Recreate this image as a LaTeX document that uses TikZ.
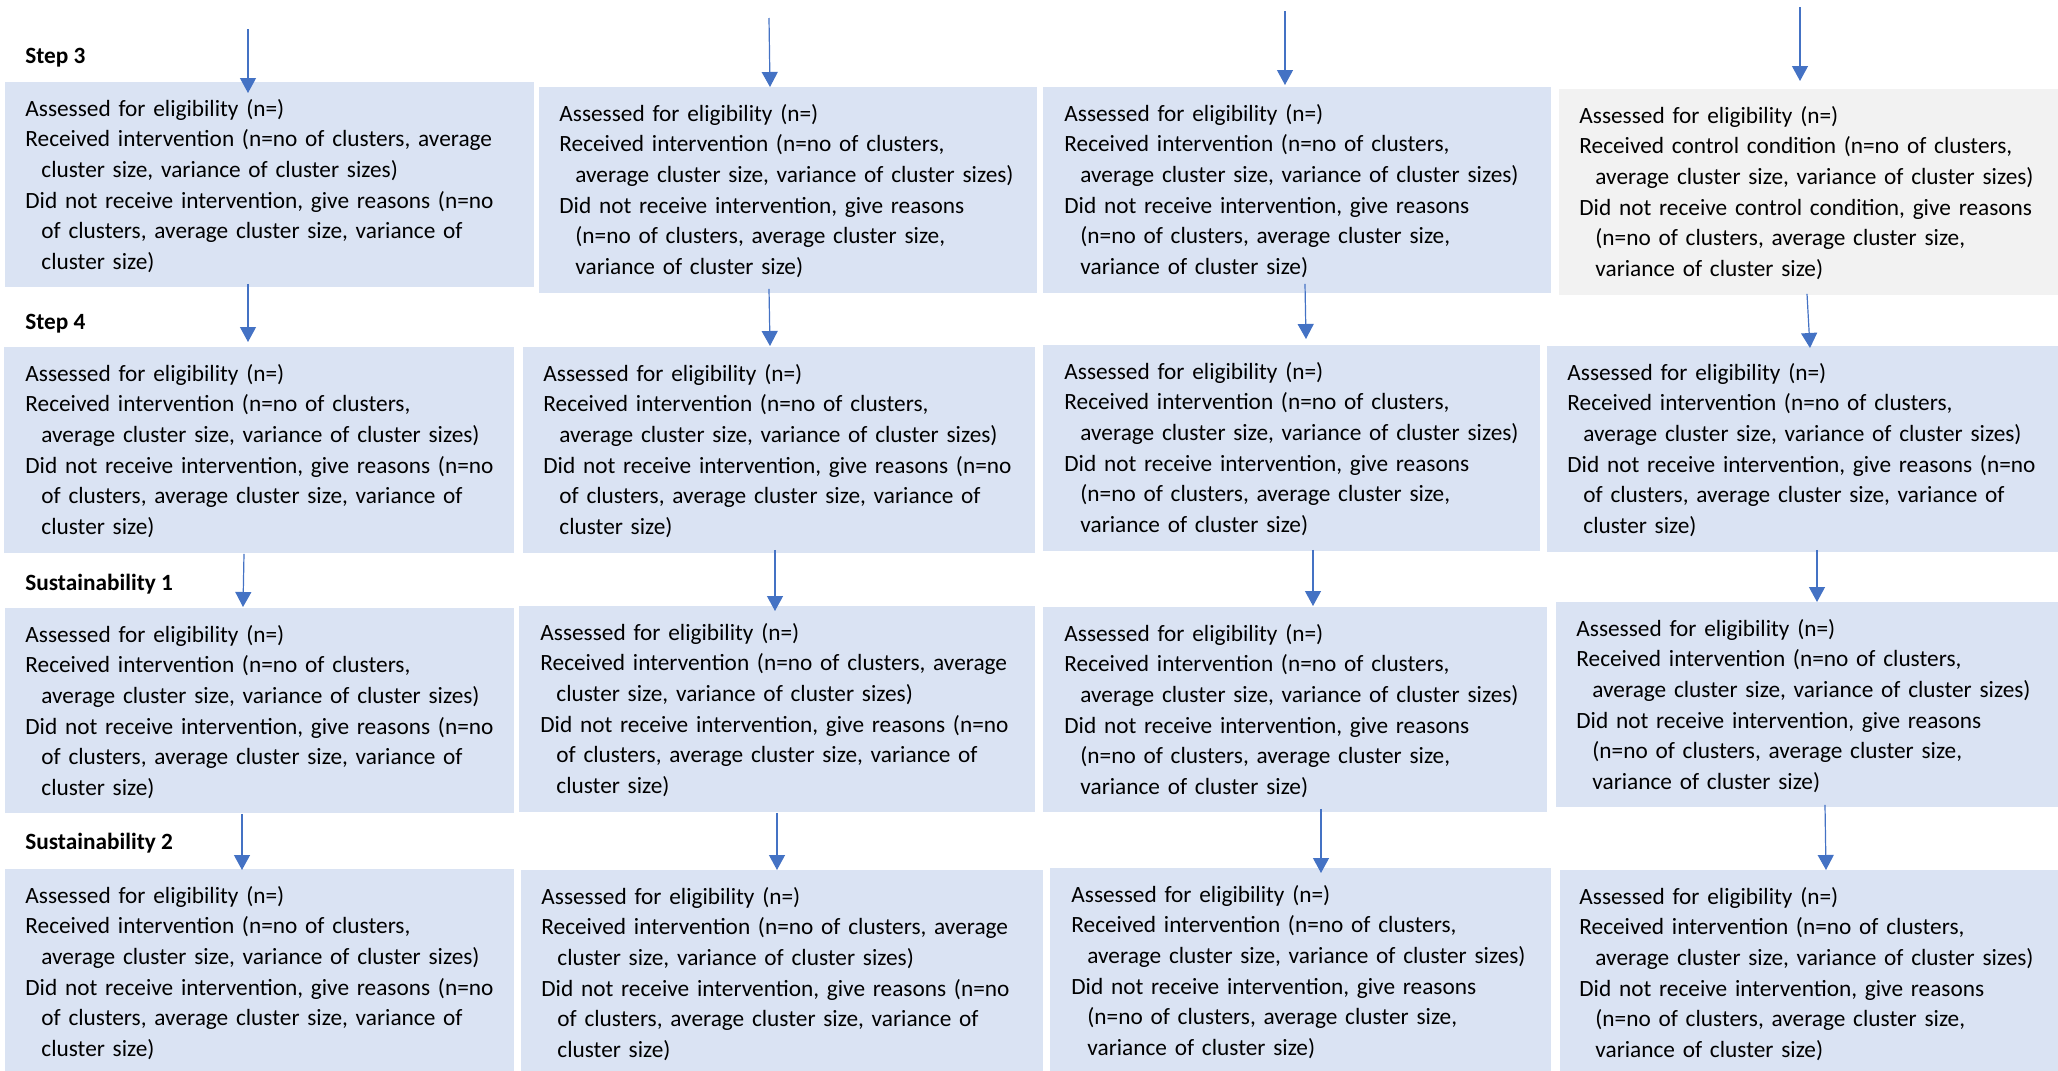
\documentclass[tikz,border=0pt]{standalone}
\usepackage{fontspec}
\setmainfont{Carlito}
\usetikzlibrary{arrows.meta}

\definecolor{boxblue}{HTML}{DAE3F3}
\definecolor{boxgray}{HTML}{F2F2F2}
\definecolor{arrowblue}{HTML}{4472C4}

% continuation-line indent
\newcommand\contind{\hspace*{8pt}}

% box texts
\newcommand\txtA{Assessed for eligibility (n=)\\
Received intervention (n=no of clusters, average\\
\contind cluster size, variance of cluster sizes)\\
Did not receive intervention, give reasons (n=no\\
\contind of clusters, average cluster size, variance of\\
\contind cluster size)}
\newcommand\txtB{Assessed for eligibility (n=)\\
Received intervention (n=no of clusters,\\
\contind average cluster size, variance of cluster sizes)\\
Did not receive intervention, give reasons (n=no\\
\contind of clusters, average cluster size, variance of\\
\contind cluster size)}
\newcommand\txtC{Assessed for eligibility (n=)\\
Received intervention (n=no of clusters,\\
\contind average cluster size, variance of cluster sizes)\\
Did not receive intervention, give reasons\\
\contind (n=no of clusters, average cluster size,\\
\contind variance of cluster size)}
\newcommand\txtD{Assessed for eligibility (n=)\\
Received control condition (n=no of clusters,\\
\contind average cluster size, variance of cluster sizes)\\
Did not receive control condition, give reasons\\
\contind (n=no of clusters, average cluster size,\\
\contind variance of cluster size)}

\tikzset{
  panel/.style={rectangle, fill=boxblue, draw=none, inner sep=0pt, anchor=north west},
  ctrlpanel/.style={panel, fill=boxgray},
  paneltext/.style={anchor=base west, inner sep=0pt, text width=250pt, align=left,
    font=\fontsize{11.65pt}{15.35pt}\selectfont},
  steplabel/.style={anchor=base west, inner sep=0pt,
    font=\fontsize{11.65pt}{15.35pt}\selectfont\bfseries},
  arr/.style={draw=arrowblue, line width=0.6pt,
    -{Triangle[width=8pt,length=7.5pt,fill=arrowblue]}}
}

\begin{document}
\begin{tikzpicture}[x=0.5pt,y=-0.5pt]
\useasboundingbox (0,0) rectangle (2058,1071);

% stage labels
\node[steplabel] (l1) at (25,63) {Step 3};
\node[steplabel] (l2) at (25,329) {Step 4};
\node[steplabel] (l3) at (25,590) {Sustainability 1};
\node[steplabel] (l4) at (25,849) {Sustainability 2};

% row: Step 3
\node[panel, minimum width=264.5pt, minimum height=102.5pt] (b11) at (5,82) {};
\node[panel, minimum width=249pt, minimum height=103pt] (b12) at (539,87) {};
\node[panel, minimum width=254pt, minimum height=103pt] (b13) at (1043,87) {};
\node[ctrlpanel, minimum width=249.5pt, minimum height=103pt] (b14) at (1559,89) {};
% row: Step 4
\node[panel, minimum width=255pt, minimum height=103pt] (b21) at (4,347) {};
\node[panel, minimum width=256pt, minimum height=103pt] (b22) at (523,347) {};
\node[panel, minimum width=248.5pt, minimum height=103pt] (b23) at (1043,345) {};
\node[panel, minimum width=255.5pt, minimum height=103pt] (b24) at (1547,346) {};
% row: Sustainability 1
\node[panel, minimum width=254.5pt, minimum height=102.5pt] (b31) at (5,608) {};
\node[panel, minimum width=258pt, minimum height=103pt] (b32) at (519,606) {};
\node[panel, minimum width=252pt, minimum height=102.5pt] (b33) at (1043,607) {};
\node[panel, minimum width=251pt, minimum height=102.5pt] (b34) at (1556,602) {};
% row: Sustainability 2
\node[panel, minimum width=254.5pt, minimum height=101pt] (b41) at (5,869) {};
\node[panel, minimum width=261pt, minimum height=100.5pt] (b42) at (521,870) {};
\node[panel, minimum width=250.5pt, minimum height=101.5pt] (b43) at (1050,868) {};
\node[panel, minimum width=249pt, minimum height=100.5pt] (b44) at (1560,870) {};

% box contents
\node[paneltext] (t11) at (25,116) {\txtA};
\node[paneltext] (t12) at (559,121) {\txtC};
\node[paneltext] (t13) at (1064,121) {\txtC};
\node[paneltext] (t14) at (1579,123) {\txtD};
\node[paneltext] (t21) at (25,381) {\txtB};
\node[paneltext] (t22) at (543,381) {\txtB};
\node[paneltext] (t23) at (1064,379) {\txtC};
\node[paneltext] (t24) at (1567,380) {\txtB};
\node[paneltext] (t31) at (25,642) {\txtB};
\node[paneltext] (t32) at (540,640) {\txtA};
\node[paneltext] (t33) at (1064,641) {\txtC};
\node[paneltext] (t34) at (1576,636) {\txtC};
\node[paneltext] (t41) at (25,903) {\txtB};
\node[paneltext] (t42) at (541,904) {\txtA};
\node[paneltext] (t43) at (1071,902) {\txtC};
\node[paneltext] (t44) at (1579,904) {\txtC};

% incoming arrows from above
\coordinate (s1) at (248,29);
\coordinate (s2) at (769,18);
\coordinate (s3) at (1285,11);
\coordinate (s4) at (1800,7);
\draw[arr] (s1) -- ([xshift=121.5pt,yshift=-5.5pt]b11.north west);
\draw[arr] (s2) -- ([xshift=115.5pt]b12.north west);
\draw[arr] (s3) -- ([xshift=121pt,yshift=1pt]b13.north west);
\draw[arr] (s4) -- ([xshift=120.5pt,yshift=4pt]b14.north west);

% Step 3 -> Step 4
\draw[arr] ([xshift=121.5pt,yshift=2pt]b11.south west) -- ([xshift=122pt,yshift=2.5pt]b21.north west);
\draw[arr] ([xshift=115pt,yshift=2.5pt]b12.south west) -- ([xshift=123.5pt,yshift=0.5pt]b22.north west);
\draw[arr] ([xshift=131pt,yshift=5pt]b13.south west) -- ([xshift=131.5pt,yshift=3pt]b23.north west);
\draw[arr] ([xshift=124pt,yshift=1pt]b14.south west) -- ([xshift=131.5pt,yshift=-1pt]b24.north west);

% Step 4 -> Sustainability 1
\draw[arr] ([xshift=120pt]b21.south west) -- ([xshift=119pt,yshift=0.5pt]b31.north west);
\draw[arr] ([xshift=126pt,yshift=2pt]b22.south west) -- ([xshift=128pt,yshift=-2.5pt]b32.north west);
\draw[arr] ([xshift=135pt,yshift=1pt]b23.south west) -- ([xshift=135pt,yshift=0.5pt]b33.north west);
\draw[arr] ([xshift=135pt,yshift=1.5pt]b24.south west) -- ([xshift=130.5pt]b34.north west);

% Sustainability 1 -> Sustainability 2
\draw[arr] ([xshift=118.5pt]b31.south west) -- ([xshift=118.5pt,yshift=-0.5pt]b41.north west);
\draw[arr] ([xshift=129pt]b32.south west) -- ([xshift=128pt]b42.north west);
\draw[arr] ([xshift=139pt,yshift=2pt]b33.south west) -- ([xshift=135.5pt,yshift=-2.5pt]b43.north west);
\draw[arr] ([xshift=134.5pt,yshift=1.5pt]b34.south west) -- ([xshift=133pt]b44.north west);
\end{tikzpicture}
\end{document}
